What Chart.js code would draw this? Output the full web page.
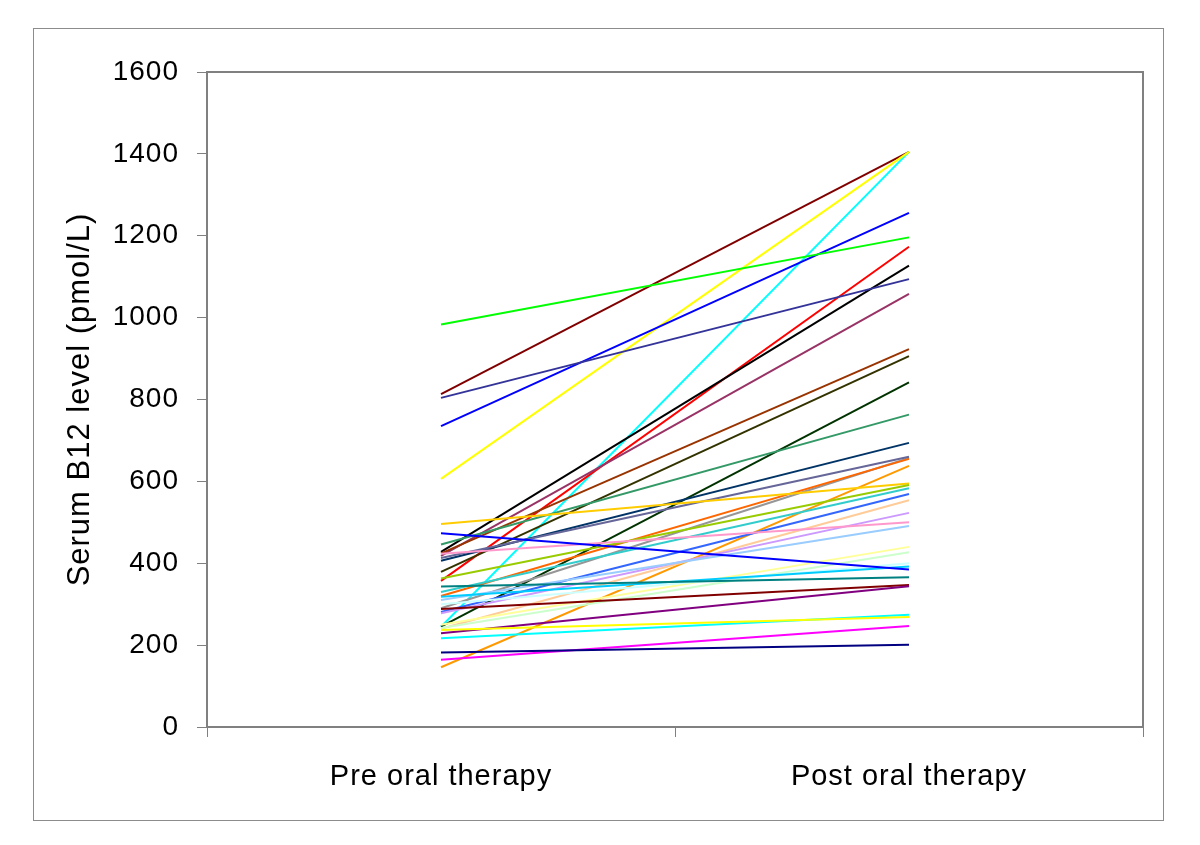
<!DOCTYPE html>
<html>
<head>
<meta charset="utf-8">
<script src="https://cdn.jsdelivr.net/npm/chart.js@4.4.1/dist/chart.umd.min.js"></script>
<style>
  html, body { margin: 0; padding: 0; background: #fff; }
  #wrap { width: 1200px; height: 845px; position: relative; }
</style>
</head>
<body>
<div id="wrap"><canvas id="chart" width="1200" height="845"></canvas></div>
<script>
const categories = ["Pre oral therapy", "Post oral therapy"];
const yTicks = [0, 200, 400, 600, 800, 1000, 1200, 1400, 1600];

// one patient per entry: serum B12 before and after oral therapy
const preValues = [182, 164, 237, 217, 229, 288, 343, 473, 318, 300, 242, 250, 310, 423, 278, 240, 281, 330, 363, 496, 146, 320, 413, 290, 406, 446, 245, 379, 424, 418, 804, 428, 357, 983, 735, 606, 245, 813];
const postValues = [201, 247, 269, 274, 344, 347, 366, 385, 392, 400, 427, 440, 491, 500, 523, 554, 569, 583, 591, 595, 638, 655, 660, 657, 694, 763, 842, 906, 923, 1058, 1094, 1127, 1173, 1196, 1256, 1405, 1405, 1405];
const seriesColors = [
  "#000080", "#FF00FF", "#FFFF00", "#00FFFF", "#800080", "#800000", "#008080", "#0000FF",
  "#00CCFF", "#CCFFFF", "#CCFFCC", "#FFFF99", "#99CCFF", "#FF99CC", "#CC99FF", "#FFCC99",
  "#3366FF", "#33CCCC", "#99CC00", "#FFCC00", "#FF9900", "#FF6600", "#666699", "#969696",
  "#003366", "#339966", "#003300", "#333300", "#993300", "#993366", "#333399", "#000000",
  "#FF0000", "#00FF00", "#0000FF", "#FFFF00", "#00FFFF", "#800000"
];

const AXIS_GREY = "#808080";
const FONT = "'Liberation Sans', Arial, sans-serif";

const frame = {
  id: "frame",
  beforeDraw(chart) {
    const { ctx } = chart;
    ctx.letterSpacing = "1px";
    ctx.save();
    ctx.strokeStyle = "#8c8c8c";
    ctx.lineWidth = 1;
    ctx.strokeRect(33.5, 28.5, 1130, 792);
    ctx.restore();
  },
  afterDatasetsDraw(chart) {
    const { ctx, chartArea } = chart;
    ctx.save();
    ctx.strokeStyle = AXIS_GREY;
    ctx.lineWidth = 2;
    ctx.beginPath();
    ctx.moveTo(chartArea.left, chartArea.top);
    ctx.lineTo(chartArea.right, chartArea.top);
    ctx.lineTo(chartArea.right, chartArea.bottom);
    ctx.stroke();
    ctx.restore();
  },
};

const datasets = preValues.map((pre, i) => ({
  label: "Patient " + (i + 1),
  data: [pre, postValues[i]],
  borderColor: seriesColors[i],
  backgroundColor: seriesColors[i],
  borderWidth: 2,
  pointRadius: 0,
  tension: 0,
}));

new Chart(document.getElementById("chart"), {
  type: "line",
  data: { labels: categories, datasets },
  plugins: [frame],
  options: {
    responsive: false,
    animation: false,
    devicePixelRatio: 1,
    layout: { padding: { top: 72, right: 57, bottom: 0, left: 60 } },
    plugins: { legend: { display: false }, tooltip: { enabled: false } },
    scales: {
      x: {
        type: "category",
        offset: true,
        afterFit: (scale) => { scale.height = 845 - 727; },
        grid: { offset: true, drawOnChartArea: false, drawTicks: true, tickLength: 10, color: AXIS_GREY, lineWidth: 1 },
        border: { display: true, color: AXIS_GREY, width: 2 },
        ticks: { color: "#000", padding: 23, font: { family: FONT, size: 29 }, maxRotation: 0 },
      },
      y: {
        min: 0,
        max: 1600,
        afterFit: (scale) => { scale.width = 207 - 60; },
        afterBuildTicks: (scale) => { scale.ticks = yTicks.map((v) => ({ value: v })); },
        grid: { drawOnChartArea: false, drawTicks: true, tickLength: 10, color: AXIS_GREY, lineWidth: 1 },
        border: { display: true, color: AXIS_GREY, width: 2 },
        ticks: { color: "#000", padding: 18, font: { family: FONT, size: 28 }, callback: (value) => String(value) },
        title: {
          display: true,
          text: "Serum B12 level (pmol/L)",
          color: "#000",
          padding: { top: 2, bottom: 2 },
          font: { family: FONT, size: 31, weight: "normal" },
        },
      },
    },
  },
});
</script>
</body>
</html>
